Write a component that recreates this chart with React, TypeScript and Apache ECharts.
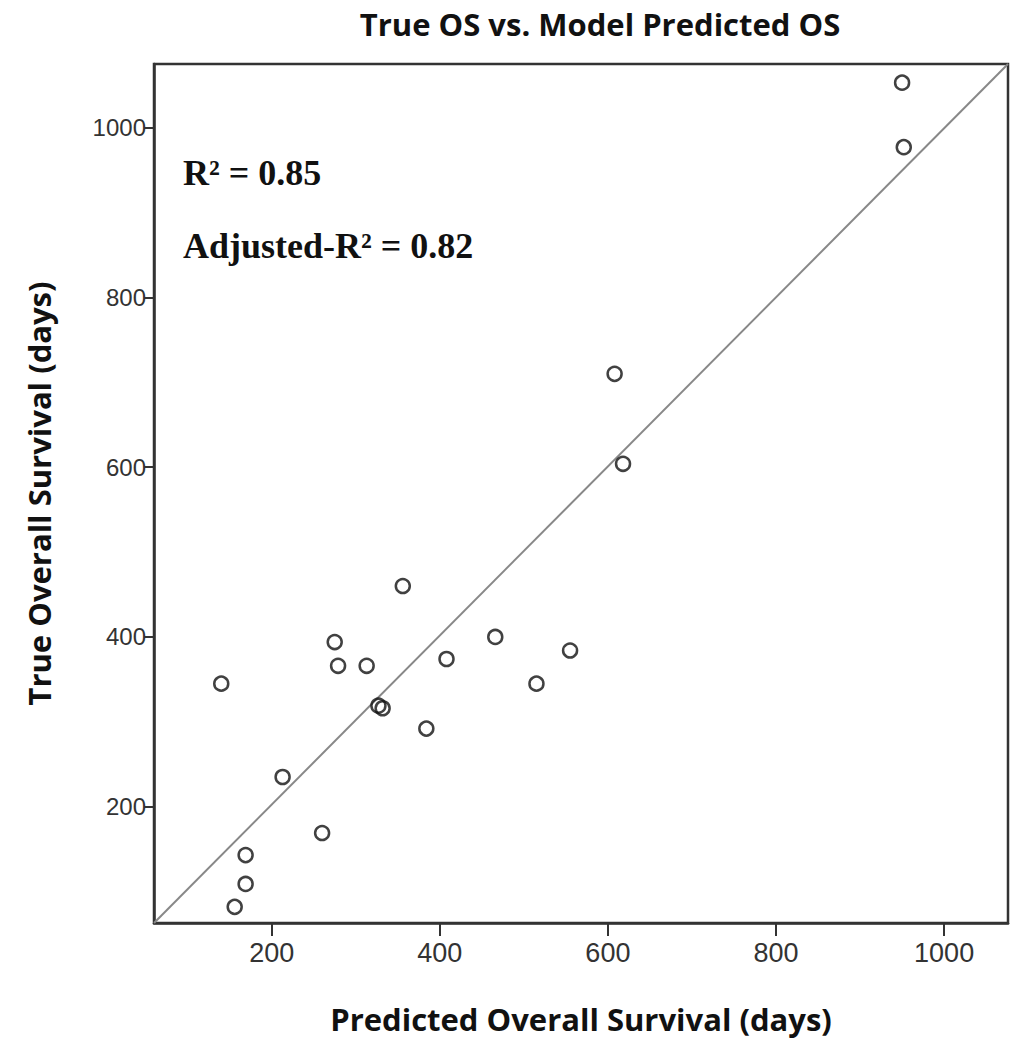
import React, { useEffect, useRef } from "react";
import * as echarts from "echarts";

const predictedOS = [356, 275, 279, 313, 140, 466, 408, 555, 515, 327, 332, 384, 213, 260, 169, 169, 156, 950, 952, 608, 618];
const trueOS = [460, 394, 366, 366, 345, 400, 374, 384, 345, 319, 316, 292, 235, 169, 143, 109, 82, 1053, 977, 710, 604];
const tickValues = [200, 400, 600, 800, 1000];
const xRange = [60, 1076];
const yRange = [63, 1075];
const refLine = [[xRange[0], yRange[0]], [xRange[1], yRange[1]]];
const titleText = "True OS vs. Model Predicted OS";
const xTitle = "Predicted Overall Survival (days)";
const yTitle = "True Overall Survival (days)";
const statLines = ["R² = 0.85", "Adjusted-R² = 0.82"];

export default function App() {
  const ref = useRef<HTMLDivElement>(null);
  useEffect(() => {
    document.body.style.margin = "0";
    const chart = echarts.init(ref.current!, null, { renderer: "svg" });
    const points = predictedOS.map((x, i) => [x, trueOS[i]]);
    const fmt = (v: number) => String(v);
    chart.setOption({
      animation: false,
      backgroundColor: "#fff",
      title: {
        text: titleText,
        left: 595,
        top: 3,
        textAlign: "center",
        textStyle: { fontFamily: "'Open Sans'", fontWeight: "bold", fontSize: 31, color: "#111" },
      },
      grid: { left: 154, right: 4, top: 64, bottom: 127, show: true, borderColor: "#333", borderWidth: 2.5, backgroundColor: "#fff" },
      xAxis: {
        type: "value",
        min: xRange[0],
        max: xRange[1],
        name: xTitle,
        nameLocation: "middle",
        nameGap: 80,
        nameTextStyle: { fontFamily: "'Open Sans'", fontWeight: "bold", fontSize: 31, color: "#111", verticalAlign: "top" },
        splitLine: { show: false },
        axisLine: { show: true, lineStyle: { color: "#333", width: 2.5 } },
        axisTick: { show: true, length: 13, customValues: tickValues, lineStyle: { color: "#333", width: 2 } },
        axisLabel: { customValues: tickValues, formatter: fmt, margin: 16, fontFamily: "'Liberation Sans Narrow', 'Liberation Sans'", fontSize: 27, color: "#333" },
      },
      yAxis: {
        type: "value",
        min: yRange[0],
        max: yRange[1],
        name: yTitle,
        nameLocation: "middle",
        nameGap: 100,
        nameTextStyle: { fontFamily: "'Open Sans'", fontWeight: "bold", fontSize: 31, color: "#111" },
        splitLine: { show: false },
        axisLine: { show: true, lineStyle: { color: "#333", width: 2.5 } },
        axisTick: { show: true, length: 10, customValues: tickValues, lineStyle: { color: "#333", width: 2 } },
        axisLabel: { customValues: tickValues, formatter: fmt, margin: 8, fontFamily: "'Liberation Sans'", fontSize: 24, color: "#333" },
      },
      series: [
        {
          type: "line",
          data: refLine,
          symbol: "none",
          silent: true,
          lineStyle: { color: "#888", width: 2 },
          z: 1,
        },
        {
          type: "scatter",
          data: points,
          symbol: "circle",
          symbolSize: 14,
          itemStyle: { color: "rgba(255,255,255,0)", borderColor: "#111", borderWidth: 2.5 },
          z: 2,
        },
      ],
      graphic: [
        {
          type: "text",
          left: 183,
          top: 155,
          style: { text: statLines[0], fontFamily: "'Liberation Serif'", fontWeight: "bold", fontSize: 36, fill: "#111" },
        },
        {
          type: "text",
          left: 183,
          top: 228,
          style: { text: statLines[1], fontFamily: "'Liberation Serif'", fontWeight: "bold", fontSize: 36, fill: "#111" },
        },
      ],
    });
    return () => chart.dispose();
  }, []);
  return <div ref={ref} style={{ width: 1012, height: 1050 }} />;
}
